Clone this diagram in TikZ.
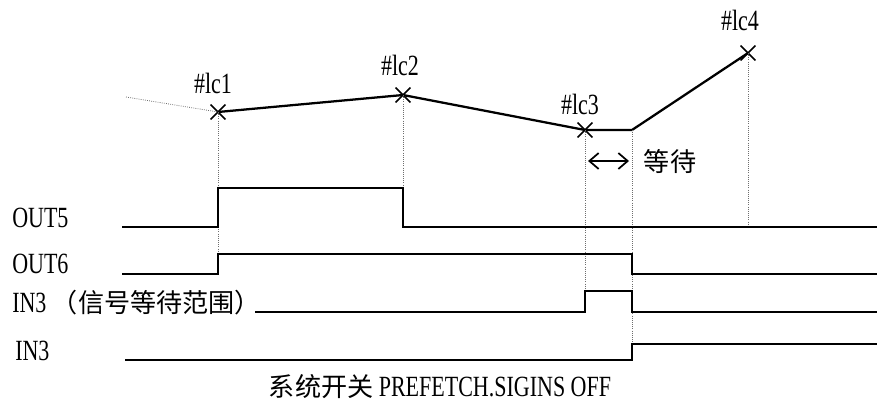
\documentclass[tikz,border=0pt]{standalone}
\usepackage{fontspec}
\setmainfont[FakeStretch=0.75]{Liberation Serif}
\newfontfamily\cjk[Scale=0.89]{Noto Sans CJK SC}
\usetikzlibrary{arrows.meta,shapes.misc}
\definecolor{ink}{RGB}{0,0,0}
\definecolor{guide}{RGB}{110,110,110}

\begin{document}
\begin{tikzpicture}[
  x=0.75pt,
  y=-0.75pt,
  font=\fontsize{22}{26}\selectfont,
  line cap=butt,
  line join=miter,
  path/.style={
    draw=ink,
    line width=1.7pt
  },
  signal/.style={
    draw=ink,
    line width=1.5pt
  },
  guideline/.style={
    draw=guide,
    densely dotted,
    line width=0.6pt
  },
  xmark/.style={
    cross out,
    draw=ink,
    line width=1.1pt,
    minimum size=10pt,
    inner sep=0pt
  },
  pointlabel/.style={
    text=ink,
    inner sep=0pt
  },
  signame/.style={
    text=ink,
    anchor=base west,
    inner sep=0pt
  }
]
\useasboundingbox (0,0) rectangle (877,414);

% ---------------------------------------------------------------------------
% Tool path through the four points.
% ---------------------------------------------------------------------------
\coordinate (lead) at (126,97);
\node[xmark] (lc1) at (218,112) {};
\node[xmark] (lc2) at (403,95) {};
\node[xmark] (lc3) at (585,130) {};
\coordinate (waitend) at (632,130);
\node[xmark] (lc4) at (748,53) {};

\draw[guideline] (lead) -- (lc1.center);
\draw[path] (lc1.center) -- (lc2.center) -- (lc3.center)
  -- (waitend) -- (lc4.center);

\node[pointlabel] (lc1label) at (213,83) {\#lc1};
\node[pointlabel] (lc2label) at (400,65) {\#lc2};
\node[pointlabel] (lc3label) at (580,104) {\#lc3};
\node[pointlabel] (lc4label) at (740,20) {\#lc4};

% Waiting interval.
\coordinate (waitl) at (588,161);
\coordinate (waitr) at (629,161);
\draw[{Straight Barb[length=7pt,width=12pt]}-{Straight Barb[length=7pt,width=12pt]},
      draw=ink,line width=1.3pt] (waitl) -- (waitr);
\node[pointlabel] (waitlabel) at (670,161) {\cjk 等待};

% ---------------------------------------------------------------------------
% Guide lines down to the signal edges.
% ---------------------------------------------------------------------------
\draw[guideline] (lc1.center) -- (218,274);
\draw[guideline] (lc2.center) -- (403,227);
\draw[guideline] (lc3.center) -- (585,312);
\draw[guideline] (waitend) -- (632,360);
\draw[guideline] (lc4.center) -- (748,227);

% ---------------------------------------------------------------------------
% Signals.
% ---------------------------------------------------------------------------
\node[signame] (out5) at (12,227) {OUT5};
\draw[signal] (122,227) -- (218,227) -- (218,188) -- (403,188)
  -- (403,227) -- (877,227);

\node[signame] (out6) at (12,273) {OUT6};
\draw[signal] (122,274) -- (218,274) -- (218,254) -- (632,254)
  -- (632,274) -- (877,274);

\node[signame] (inwait) at (12,312) {IN3 {\cjk （信号等待范围）}};
\draw[signal] (255,312) -- (585,312) -- (585,291) -- (632,291)
  -- (632,312) -- (877,312);

\node[signame] (in3) at (15,360) {IN3};
\draw[signal] (125,360) -- (632,360) -- (632,344) -- (877,344);

\node[pointlabel,anchor=base] (caption) at (440,396)
  {{\cjk 系统开关} PREFETCH.SIGINS OFF};

\end{tikzpicture}
\end{document}
